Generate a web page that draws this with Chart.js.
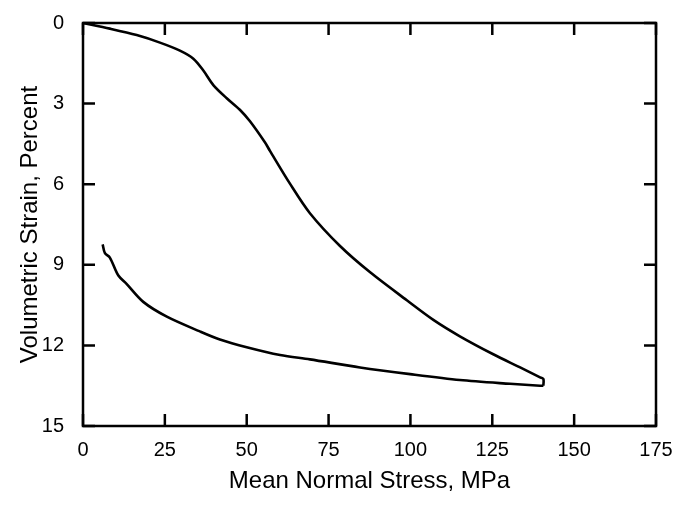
<!DOCTYPE html>
<html>
<head>
<meta charset="utf-8">
<script src="https://cdn.jsdelivr.net/npm/chart.js@4/dist/chart.umd.min.js"></script>
<style>
  html, body { margin: 0; padding: 0; background: #fff; }
  #wrap { width: 687px; height: 506px; }
</style>
</head>
<body>
<div id="wrap"><canvas id="chart" width="687" height="506"></canvas></div>
<script>
// loading branch (stress in MPa, volumetric strain in percent)
const loadStress = [0, 8.2, 16.4, 23.5, 29.6, 33.7, 36.7, 39.8, 43.9, 47.9, 51.0, 55.6, 57.1, 63.2, 69.3, 78.5, 87.7, 98.9, 107.0, 115.1, 125.3, 133.5, 139.6, 140.6, 140.6];
const loadStrain = [0, 0.21, 0.45, 0.73, 1.03, 1.33, 1.76, 2.31, 2.80, 3.23, 3.66, 4.45, 4.76, 5.98, 7.08, 8.30, 9.28, 10.32, 11.05, 11.66, 12.33, 12.82, 13.19, 13.25, 13.5];

// unloading branch
const unloadStress = [140.6, 139.6, 130.4, 115.1, 99.9, 84.6, 69.3, 60.2, 50.0, 41.8, 35.7, 25.6, 18.4, 13.3, 10.8, 8.2, 6.7, 6.0];
const unloadStrain = [13.5, 13.5, 13.43, 13.29, 13.07, 12.82, 12.52, 12.36, 12.07, 11.78, 11.48, 10.93, 10.38, 9.71, 9.40, 8.73, 8.57, 8.24];

const xTicks = [0, 25, 50, 75, 100, 125, 150, 175];
const yTicks = [0, 3, 6, 9, 12, 15];

const toPoints = (xs, ys) => xs.map((x, i) => ({ x: x, y: ys[i] }));
const FONT = "'Liberation Sans', Arial, sans-serif";

// frame with inward ticks on all four sides
const frameTicks = {
  id: "frameTicks",
  afterDraw(chart) {
    const ctx = chart.ctx;
    const a = chart.chartArea;
    const xs = chart.scales.x;
    const ys = chart.scales.y;
    const len = 12;
    ctx.save();
    ctx.strokeStyle = "#000";
    ctx.lineWidth = 2.5;
    ctx.strokeRect(a.left, a.top, a.right - a.left, a.bottom - a.top);
    ctx.beginPath();
    xTicks.forEach((v) => {
      const px = xs.getPixelForValue(v);
      ctx.moveTo(px, a.bottom); ctx.lineTo(px, a.bottom - len);
      ctx.moveTo(px, a.top); ctx.lineTo(px, a.top + len);
    });
    yTicks.forEach((v) => {
      const py = ys.getPixelForValue(v);
      ctx.moveTo(a.left, py); ctx.lineTo(a.left + len, py);
      ctx.moveTo(a.right, py); ctx.lineTo(a.right - len, py);
    });
    ctx.stroke();
    ctx.restore();
  },
};

new Chart(document.getElementById("chart"), {
  type: "scatter",
  data: {
    datasets: [
      {
        label: "Loading",
        data: toPoints(loadStress, loadStrain),
        showLine: true,
        borderColor: "#000",
        borderWidth: 2.6,
        pointRadius: 0,
        tension: 0.3,
      },
      {
        label: "Unloading",
        data: toPoints(unloadStress, unloadStrain),
        showLine: true,
        borderColor: "#000",
        borderWidth: 2.6,
        pointRadius: 0,
        tension: 0.3,
      },
    ],
  },
  options: {
    responsive: false,
    animation: false,
    layout: { padding: { top: 17, right: 31, left: 0, bottom: 0 } },
    plugins: { legend: { display: false }, tooltip: { enabled: false } },
    scales: {
      x: {
        type: "linear",
        min: 0,
        max: 175,
        grid: { display: false },
        border: { display: false },
        afterBuildTicks: (s) => { s.ticks = xTicks.map((v) => ({ value: v })); },
        afterFit: (s) => { s.height = 80; },
        ticks: { color: "#000", font: { family: FONT, size: 20 }, padding: 4, maxRotation: 0 },
        title: {
          display: true,
          text: "Mean Normal Stress, MPa",
          color: "#000",
          font: { family: FONT, size: 24 },
          padding: { top: 0, bottom: 10 },
        },
      },
      y: {
        type: "linear",
        min: 0,
        max: 15,
        reverse: true,
        grid: { display: false },
        border: { display: false },
        afterBuildTicks: (s) => { s.ticks = yTicks.map((v) => ({ value: v })); },
        afterFit: (s) => { s.width = 83; },
        ticks: { color: "#000", font: { family: FONT, size: 20 }, padding: 11 },
        title: {
          display: true,
          text: "Volumetric Strain, Percent",
          color: "#000",
          font: { family: FONT, size: 24 },
          padding: { top: 16, bottom: 0 },
        },
      },
    },
  },
  plugins: [frameTicks],
});
</script>
</body>
</html>
